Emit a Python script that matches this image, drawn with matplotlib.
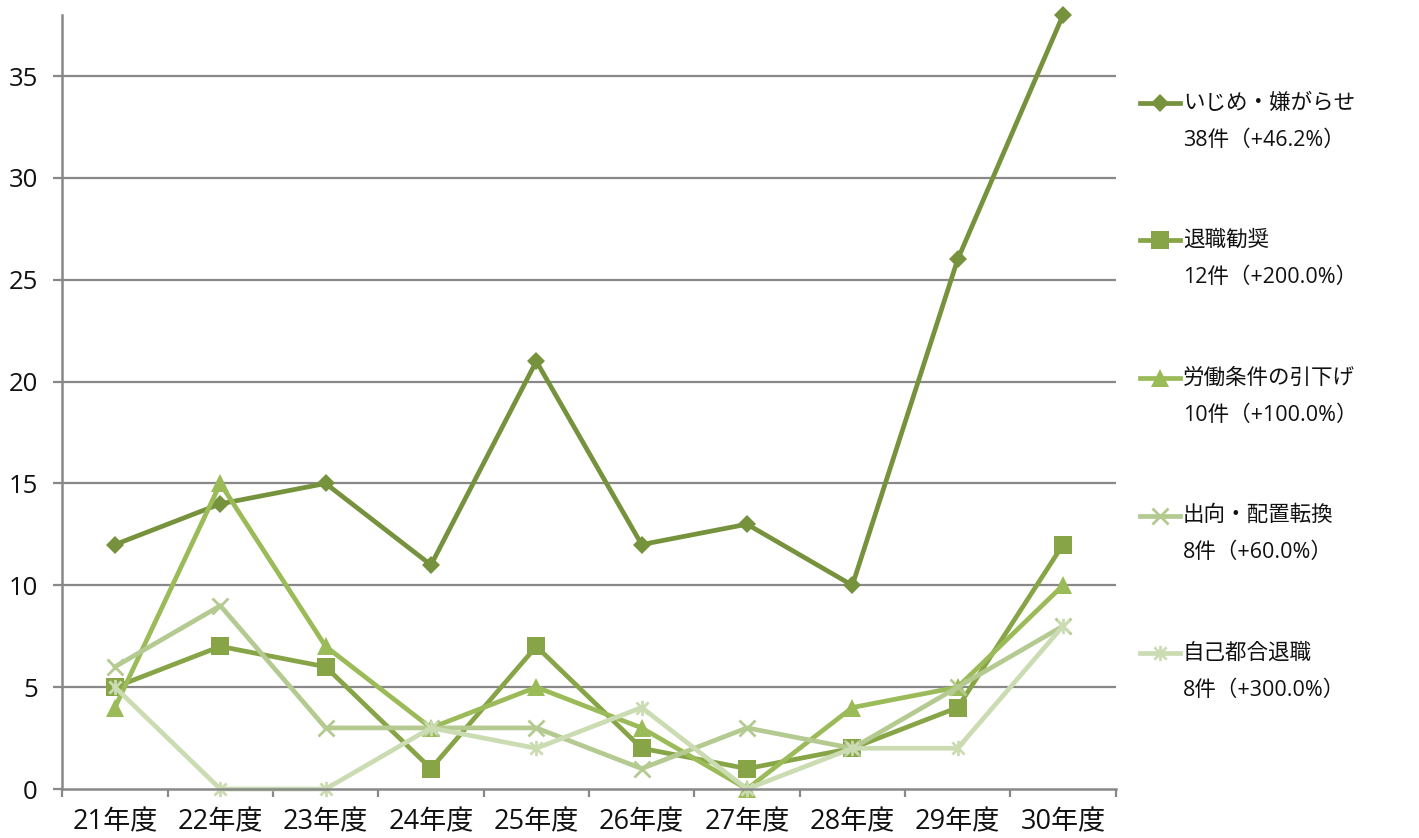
import matplotlib
matplotlib.use("Agg")
import matplotlib.pyplot as plt
from matplotlib.lines import Line2D
from matplotlib.path import Path

plt.rcParams['font.family'] = ['Open Sans', 'Noto Sans CJK JP', 'DejaVu Sans']

years = ["21年度", "22年度", "23年度", "24年度", "25年度",
         "26年度", "27年度", "28年度", "29年度", "30年度"]

series_names = ["いじめ・嫌がらせ", "退職勧奨", "労働条件の引下げ", "出向・配置転換", "自己都合退職"]
series_notes = ["38件（+46.2%）", "12件（+200.0%）", "10件（+100.0%）", "8件（+60.0%）", "8件（+300.0%）"]

ijime = [12, 14, 15, 11, 21, 12, 13, 10, 26, 38]
taishoku_kansho = [5, 7, 6, 1, 7, 2, 1, 2, 4, 12]
rodo_joken = [4, 15, 7, 3, 5, 3, 0, 4, 5, 10]
shukko = [6, 9, 3, 3, 3, 1, 3, 2, 5, 8]
jiko_tsugo = [5, 0, 0, 3, 2, 4, 0, 2, 2, 8]

values = [ijime, taishoku_kansho, rodo_joken, shukko, jiko_tsugo]

colors = ["#76923C", "#87A447", "#9BBB59", "#B4CA91", "#CBDCB3"]

# Asterisk marker: an x crossed by a vertical bar
star_path = Path([(-1, -1), (1, 1), (-1, 1), (1, -1), (0, -1.25), (0, 1.25)],
                 [Path.MOVETO, Path.LINETO, Path.MOVETO, Path.LINETO, Path.MOVETO, Path.LINETO])

styles = [
    dict(marker="D", markersize=9.5, markeredgewidth=0),
    dict(marker="s", markersize=12.5, markeredgewidth=0),
    dict(marker="^", markersize=12.5, markeredgewidth=0),
    dict(marker="x", markersize=11.5, markeredgewidth=2),
    dict(marker=star_path, markersize=11, markeredgewidth=2),
]

W, H = 1419, 838
fig = plt.figure(figsize=(W / 100, H / 100), dpi=100)
left, right, bottom, top = 62.3, 1115.7, 789, 15
ax = fig.add_axes([left / W, 1 - bottom / H, (right - left) / W, (bottom - top) / H])

x = list(range(len(years)))
for vals, c, st in zip(values, colors, styles):
    ax.plot(x, vals, color=c, linewidth=3.4, solid_joinstyle="round",
            markerfacecolor=c, markeredgecolor=c, clip_on=False, **st)

ax.set_xlim(-0.5, len(years) - 0.5)
ax.set_ylim(0, 38)
ax.set_yticks(range(0, 36, 5))
ax.set_xticks(x)
ax.set_xticklabels(years)
ax.set_xticks([i - 0.5 for i in range(len(years) + 1)], minor=True)

grid_c = "#888888"
for yv in range(5, 36, 5):
    ax.axhline(yv, color=grid_c, linewidth=1.6, zorder=0)

for side in ("top", "right"):
    ax.spines[side].set_visible(False)
for side in ("left", "bottom"):
    ax.spines[side].set_color(grid_c)
    ax.spines[side].set_linewidth(1.8)

ax.tick_params(axis="y", direction="out", length=6.5, width=1.6, color=grid_c,
               pad=11, labelsize=18.5, labelcolor="#111111")
ax.tick_params(axis="x", which="major", length=0, pad=14, labelsize=19.5, labelcolor="#111111")
ax.tick_params(axis="x", which="minor", direction="out", length=6, width=1.6, color=grid_c)

# Legend drawn beside the plot, one two-line entry per series
y0, step = 103, 137.5
for i, (name, note, c, st) in enumerate(zip(series_names, series_notes, colors, styles)):
    yc = y0 + step * i
    fy = 1 - yc / H
    fig.add_artist(Line2D([1140 / W, 1180 / W], [fy, fy], color=c, linewidth=3.4,
                          transform=fig.transFigure))
    fig.add_artist(Line2D([1160 / W], [fy], color=c, markerfacecolor=c, markeredgecolor=c,
                          linestyle="none", transform=fig.transFigure, **st))
    fig.text(1183 / W, fy, name, fontsize=15.5, va="center", ha="left", color="#111111")
    fig.text(1183 / W, 1 - (yc + 37) / H, note, fontsize=15.5, va="center", ha="left", color="#111111")

fig.savefig("out.png", dpi=100)
